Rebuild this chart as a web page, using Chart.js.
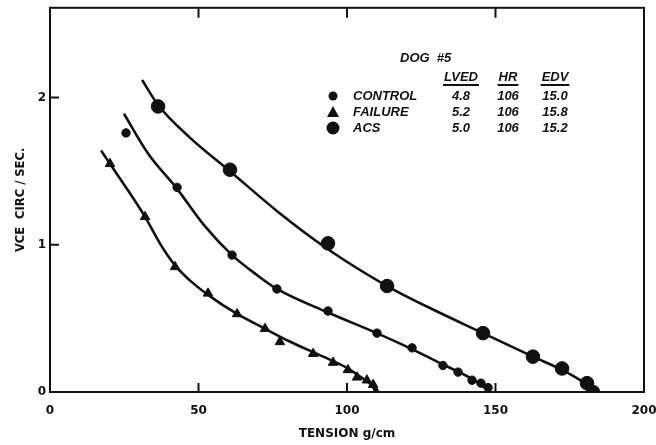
<!DOCTYPE html>
<html lang="en">
<head>
    <meta charset="UTF-8">
    <title>VCE vs Tension - Dog #5</title>
    <script src="https://cdn.jsdelivr.net/npm/chart.js"></script>
    <style>
        body { margin: 0; background: #fff; }
        #wrap { width: 656px; height: 445px; }
    </style>
</head>
<body>
    <div id="wrap">
        <canvas id="vceChart" width="656" height="445"></canvas>
    </div>

    <script>
        // measured points (tension g/cm, VCE circ/sec)
        const controlX = [25.6, 42.8, 61.3, 76.4, 93.6, 110.1, 121.9, 132.3, 137.4, 142.1, 145.1, 147.5];
        const controlY = [1.76, 1.39, 0.93, 0.70, 0.55, 0.40, 0.30, 0.18, 0.135, 0.08, 0.06, 0.03];
        const failureX = [20.2, 32.0, 42.1, 53.2, 63.0, 72.4, 77.4, 88.6, 95.3, 100.3, 103.4, 106.7, 108.8, 109.8];
        const failureY = [1.55, 1.19, 0.85, 0.67, 0.53, 0.43, 0.34, 0.26, 0.20, 0.15, 0.10, 0.08, 0.05, 0.0];
        const acsX = [36.4, 60.6, 93.6, 113.5, 145.8, 162.6, 172.4, 180.8, 182.8];
        const acsY = [1.94, 1.51, 1.01, 0.72, 0.40, 0.24, 0.16, 0.06, 0.0];

        // hand drawn fitted curves
        const controlCurveX = [24.9, 33, 42.8, 52, 61.3, 70, 76.4, 93.6, 110, 122, 132, 142, 148.5];
        const controlCurveY = [1.89, 1.62, 1.38, 1.13, 0.93, 0.79, 0.70, 0.54, 0.40, 0.29, 0.19, 0.09, 0.0];
        const failureCurveX = [17.2, 20.2, 32, 37, 42.1, 47, 53.2, 63, 72.4, 80, 88.6, 95.3, 100.3, 104, 107.5, 110];
        const failureCurveY = [1.64, 1.55, 1.19, 1.01, 0.86, 0.76, 0.66, 0.53, 0.43, 0.35, 0.27, 0.21, 0.16, 0.11, 0.06, 0.0];
        const acsCurveX = [31, 36.4, 47, 60.6, 77, 93.6, 113.5, 130, 145.8, 162.6, 172.4, 180, 183.5];
        const acsCurveY = [2.12, 1.95, 1.73, 1.50, 1.22, 0.97, 0.72, 0.55, 0.40, 0.24, 0.15, 0.06, 0.0];

        const xTicks = [0, 50, 100, 150, 200];
        const yTicks = [0, 1, 2];

        const legendNames = ['CONTROL', 'FAILURE', 'ACS'];
        const legendHeaders = ['LVED', 'HR', 'EDV'];
        const legendValues = [
            ['4.8', '106', '15.0'],
            ['5.2', '106', '15.8'],
            ['5.0', '106', '15.2']
        ];

        const ink = '#111';
        const toPts = (xs, ys) => xs.map((x, i) => ({ x: x, y: ys[i] }));

        function curve(xs, ys) {
            return {
                type: 'line',
                data: toPts(xs, ys),
                borderColor: ink,
                borderWidth: 2.6,
                pointRadius: 0,
                fill: false,
                cubicInterpolationMode: 'monotone'
            };
        }

        function marks(xs, ys, style, r) {
            return {
                type: 'scatter',
                data: toPts(xs, ys),
                pointStyle: style,
                pointRadius: r,
                backgroundColor: ink,
                borderColor: ink,
                borderWidth: 1
            };
        }

        // frame, inward tick marks and the little data table
        const frameAndLegend = {
            id: 'frameAndLegend',
            afterDraw(chart) {
                const { ctx, chartArea: a, scales } = chart;
                ctx.save();
                ctx.strokeStyle = ink;
                ctx.lineWidth = 2;
                ctx.strokeRect(a.left, a.top, a.right - a.left, a.bottom - a.top);
                ctx.beginPath();
                xTicks.slice(1, -1).forEach(v => {
                    const px = scales.x.getPixelForValue(v);
                    ctx.moveTo(px, a.bottom); ctx.lineTo(px, a.bottom - 9);
                    ctx.moveTo(px, a.top); ctx.lineTo(px, a.top + 10);
                });
                yTicks.slice(1).forEach(v => {
                    const py = scales.y.getPixelForValue(v);
                    ctx.moveTo(a.left, py); ctx.lineTo(a.left + 9, py);
                });
                ctx.stroke();

                ctx.fillStyle = ink;
                ctx.textBaseline = 'middle';
                ctx.font = 'italic bold 13px "Liberation Sans"';
                ctx.textAlign = 'left';
                ctx.fillText('DOG  #5', 400, 58);

                const colX = [461, 508, 555];
                const rowY = [96, 112, 128];
                ctx.textAlign = 'center';
                legendHeaders.forEach((h, i) => {
                    ctx.fillText(h, colX[i], 77);
                    const w = ctx.measureText(h).width;
                    ctx.fillRect(colX[i] - w / 2 - 1, 84, w + 2, 2);
                });
                legendValues.forEach((row, r) => {
                    row.forEach((v, c) => ctx.fillText(v, colX[c], rowY[r]));
                });
                ctx.textAlign = 'left';
                legendNames.forEach((n, r) => ctx.fillText(n, 353, rowY[r]));

                // legend markers
                ctx.beginPath(); ctx.arc(333, rowY[0], 4.5, 0, Math.PI * 2); ctx.fill();
                ctx.beginPath();
                ctx.moveTo(333, rowY[1] - 6); ctx.lineTo(339, rowY[1] + 5); ctx.lineTo(327, rowY[1] + 5);
                ctx.closePath(); ctx.fill();
                ctx.beginPath(); ctx.arc(333, rowY[2], 6.5, 0, Math.PI * 2); ctx.fill();
                ctx.restore();
            }
        };

        const tickFont = { family: '"DejaVu Sans"', size: 12, weight: 'bold' };

        new Chart(document.getElementById('vceChart'), {
            type: 'scatter',
            data: {
                datasets: [
                    curve(controlCurveX, controlCurveY),
                    curve(failureCurveX, failureCurveY),
                    curve(acsCurveX, acsCurveY),
                    marks(controlX, controlY, 'circle', 4.2),
                    marks(failureX, failureY, 'triangle', 5.5),
                    marks(acsX, acsY, 'circle', 6.8)
                ]
            },
            options: {
                responsive: false,
                animation: false,
                layout: { padding: { top: 6, right: 12, left: 0, bottom: 0 } },
                plugins: { legend: { display: false }, tooltip: { enabled: false } },
                scales: {
                    x: {
                        type: 'linear',
                        min: 0, max: 200,
                        afterBuildTicks: s => { s.ticks = xTicks.map(v => ({ value: v })); },
                        ticks: { color: ink, font: tickFont, padding: 12, maxRotation: 0 },
                        grid: { display: false, drawTicks: false },
                        border: { display: false },
                        title: {
                            display: true, text: 'TENSION g/cm', color: ink,
                            font: { family: '"DejaVu Sans"', size: 12, weight: 'bold' },
                            padding: { top: 8 }
                        },
                        afterFit: s => { s.height = 53; s.paddingLeft = 0; s.paddingRight = 0; }
                    },
                    y: {
                        type: 'linear',
                        min: 0, max: 2.61,
                        afterBuildTicks: s => { s.ticks = yTicks.map(v => ({ value: v })); },
                        ticks: { color: ink, font: tickFont, padding: 4 },
                        grid: { display: false, drawTicks: false },
                        border: { display: false },
                        title: {
                            display: true, text: 'VCE  CIRC / SEC.', color: ink,
                            font: { family: '"DejaVu Sans"', size: 11.5, weight: 'bold' },
                            padding: { top: 14, bottom: 0 }
                        },
                        afterFit: s => { s.width = 50; s.paddingTop = 0; s.paddingBottom = 0; }
                    }
                }
            },
            plugins: [frameAndLegend]
        });
    </script>
</body>
</html>
